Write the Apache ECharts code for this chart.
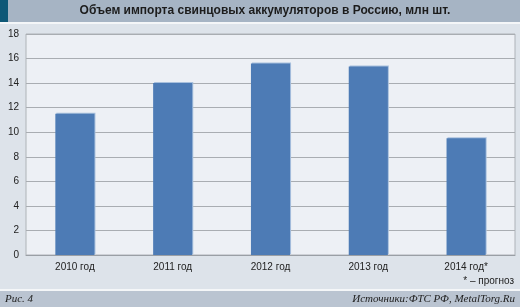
<!DOCTYPE html>
<html><head><meta charset="utf-8">
<script src="https://cdn.jsdelivr.net/npm/echarts@6/dist/echarts.min.js"></script>
<style>html,body{margin:0;padding:0;}#c{width:520px;height:307px;}</style>
</head><body><div id="c"></div>
<script>
const categories = ['2010 год','2011 год','2012 год','2013 год','2014 год*'];
const values = [11.5, 14.0, 15.6, 15.35, 9.5];
const yTicks = [0,2,4,6,8,10,12,14,16,18];
const titleText = 'Объем импорта свинцовых аккумуляторов в Россию, млн шт.';
const noteText = '* – прогноз';
const figText = 'Рис. 4';
const sourceText = 'Источники:ФТС РФ, MetalTorg.Ru';

const chart = echarts.init(document.getElementById('c'), null, {renderer:'canvas'});
chart.setOption({
  backgroundColor: '#dde3ea',
  animation: false,
  graphic: [
    {type:'rect', shape:{x:0,y:0,width:520,height:22}, style:{fill:'#a6b4c4'}, z:-1},
    {type:'rect', shape:{x:0,y:0,width:8,height:22}, style:{fill:'#0e5877'}, z:-1},
    {type:'rect', shape:{x:0,y:22,width:520,height:2}, style:{fill:'#f4f6f8'}, z:-1},
    {type:'rect', shape:{x:0,y:289,width:520,height:2}, style:{fill:'#f4f6f8'}, z:-1},
    {type:'rect', shape:{x:0,y:291,width:520,height:16}, style:{fill:'#bac4d1'}, z:-1},
    {type:'text', style:{text:titleText, x:265, y:11, textAlign:'center', textVerticalAlign:'middle', font:'bold 12px "Liberation Sans", Arial, sans-serif', fill:'#1c1c1c'}},
    {type:'text', style:{text:noteText, x:514, y:281, textAlign:'right', textVerticalAlign:'middle', font:'10px "Liberation Sans", Arial, sans-serif', fill:'#222'}},
    {type:'text', style:{text:figText, x:5, y:299, textAlign:'left', textVerticalAlign:'middle', font:'italic 11px "Liberation Serif", "DejaVu Serif", serif', fill:'#222'}},
    {type:'text', style:{text:sourceText, x:515, y:299, textAlign:'right', textVerticalAlign:'middle', font:'italic 11px "Liberation Serif", "DejaVu Serif", serif', fill:'#222'}}
  ],
  grid: {left:26, right:5, top:34, bottom:52, show:true, backgroundColor:'#edf0f5', borderColor:'#aeb3b8', borderWidth:1},
  xAxis: {
    type:'category', data:categories,
    axisLine:{show:true, lineStyle:{color:'#9a9fa5'}},
    axisTick:{show:false},
    axisLabel:{color:'#222', fontSize:10, fontFamily:'"Liberation Sans", Arial, sans-serif', margin:7}
  },
  yAxis: {
    type:'value', min:yTicks[0], max:yTicks[yTicks.length-1], interval:2,
    axisLine:{show:false}, axisTick:{show:false},
    splitLine:{lineStyle:{color:'#a9adb2', width:1}},
    axisLabel:{color:'#222', fontSize:10, fontFamily:'"Liberation Sans", Arial, sans-serif', margin:7}
  },
  series: [{
    type:'bar', data:values, barWidth:'40%',
    itemStyle:{color:'#4d7bb5', shadowColor:'#a8c0dd', shadowOffsetX:1, shadowOffsetY:-1, shadowBlur:0}
  }]
});
</script></body></html>
